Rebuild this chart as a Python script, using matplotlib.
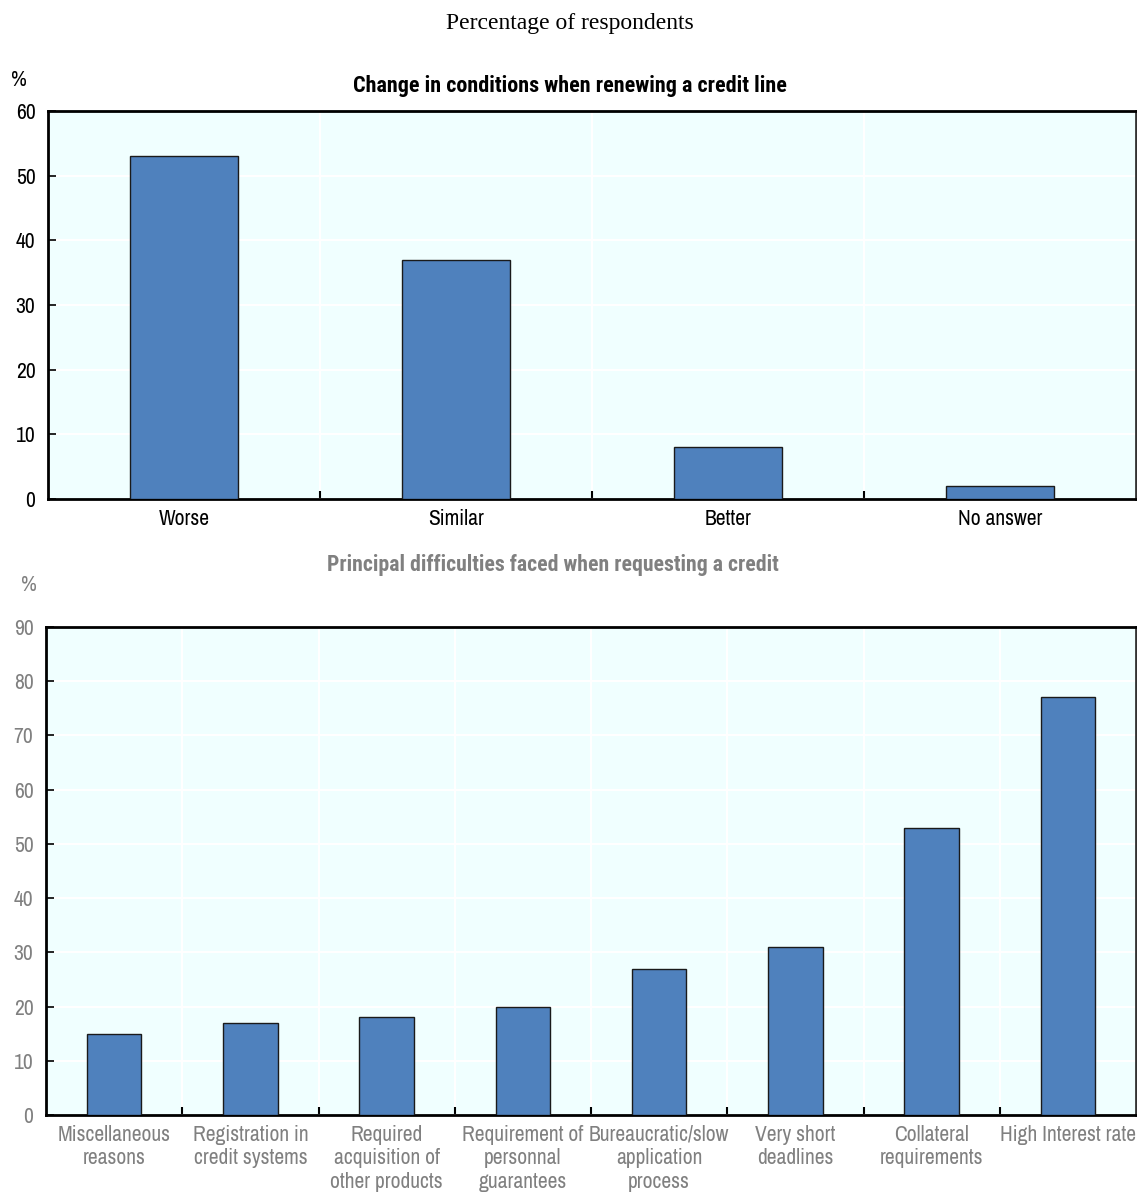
import matplotlib
matplotlib.use("Agg")
import matplotlib.pyplot as plt
from matplotlib import font_manager

# Survey data
renew_categories = ["Worse", "Similar", "Better", "No answer"]
renew_values = [53, 37, 8, 2]

difficulty_categories = [
    "Miscellaneous\nreasons",
    "Registration in\ncredit systems",
    "Required\nacquisition of\nother products",
    "Requirement of\npersonnal\nguarantees",
    "Bureaucratic/slow\napplication\nprocess",
    "Very short\ndeadlines",
    "Collateral\nrequirements",
    "High Interest rate",
]
difficulty_values = [15, 17, 18, 20, 27, 31, 53, 77]

# Prefer a narrow sans-serif face for all chart text
fonts = font_manager.fontManager.ttflist
names = {f.name for f in fonts}
preferred = ["Arial Narrow", "Liberation Sans Narrow", "Archivo Narrow", "Roboto Condensed",
             "PT Sans Narrow", "Encode Sans Condensed", "Open Sans Condensed", "Liberation Sans"]
narrow = next((n for n in preferred if n in names), "DejaVu Sans")
plt.rcParams["font.family"] = [narrow, "DejaVu Sans"]

# A narrow family that ships a real bold weight, for the panel titles
bold_candidates = ["Arial Narrow", "Liberation Sans Narrow", "Roboto Condensed", "PT Sans Narrow",
                   "Fira Sans Condensed", "IBM Plex Sans Condensed", "Barlow Semi Condensed",
                   "Asap Condensed", "Encode Sans Condensed", "Sofia Sans Condensed",
                   "Archivo Narrow", "Liberation Sans"]


def has_bold(name):
    for f in fonts:
        if f.name == name:
            w = f.weight
            if isinstance(w, str):
                w = font_manager.weight_dict.get(w, 400)
            if w >= 700 and f.style == "normal":
                return True
    return False


bold_family = next((n for n in bold_candidates if n in names and has_bold(n)), "DejaVu Sans")

W, H = 1137, 1193
fig = plt.figure(figsize=(W / 100, H / 100), dpi=100)

BG = "#F0FFFF"
BAR = "#4F81BD"
GREY = "#808080"
FS = 15.5


def px_axes(left, top, right, bottom):
    return fig.add_axes([left / W, 1 - bottom / H, (right - left) / W, (bottom - top) / H])


def style(ax, cats, vals, ymax, step, color):
    n = len(cats)
    x = list(range(n))
    ax.set_facecolor(BG)
    ax.bar(x, vals, width=0.4, color=BAR, edgecolor="#1a1a1a", linewidth=1.0, zorder=3)
    ax.set_xlim(-0.5, n - 0.5)
    ax.set_ylim(0, ymax)
    ax.set_yticks(range(0, ymax + 1, step))
    ax.set_xticks(x)
    ax.set_xticklabels(cats, color=color, fontsize=FS, linespacing=1.22)
    ax.set_xticks([i + 0.5 for i in range(n - 1)], minor=True)
    ax.tick_params(axis="x", which="major", length=0, pad=7)
    ax.tick_params(axis="x", which="minor", direction="in", length=6, width=1.5, color="black")
    ax.tick_params(axis="y", direction="in", length=6, width=1.2, labelsize=FS,
                   labelcolor=color, pad=9)
    ax.yaxis.grid(True, color="white", linewidth=1.5, zorder=0)
    ax.xaxis.grid(True, which="minor", color="white", linewidth=1.5, zorder=0)
    ax.set_axisbelow(True)
    for side in ["left", "bottom", "top"]:
        ax.spines[side].set_linewidth(2)
        ax.spines[side].set_color("black")
    ax.spines["right"].set_linewidth(2)
    ax.spines["right"].set_color("#333333")


ax1 = px_axes(48, 111, 1136, 499)
style(ax1, renew_categories, renew_values, 60, 10, "black")

ax2 = px_axes(46, 627, 1136, 1115)
style(ax2, difficulty_categories, difficulty_values, 90, 10, GREY)

renderer = fig.canvas.get_renderer()


def fitted_title(x, y, s, width_px, color, size=FS):
    # bold panel title, sized so its run spans the wanted width
    t = fig.text(x / W, 1 - y / H, s, ha="center", va="center", fontsize=size,
                 fontweight="bold", color=color, family=[bold_family, "DejaVu Sans"])
    w = t.get_window_extent(renderer).width
    t.set_fontsize(min(size * width_px / w, 17))
    return t


fig.text(570 / W, 1 - 24 / H, "Percentage of respondents", ha="center", va="center",
         fontsize=17, family=["Liberation Serif", "DejaVu Serif"])
fitted_title(570, 86, "Change in conditions when renewing a credit line", 434, "black")
fitted_title(553, 565, "Principal difficulties faced when requesting a credit", 452, GREY)
fig.text(19 / W, 1 - 80 / H, "%", ha="center", va="center", fontsize=FS)
fig.text(29 / W, 1 - 585 / H, "%", ha="center", va="center", fontsize=FS, color=GREY)

fig.savefig("out.png", dpi=100, facecolor="white")
